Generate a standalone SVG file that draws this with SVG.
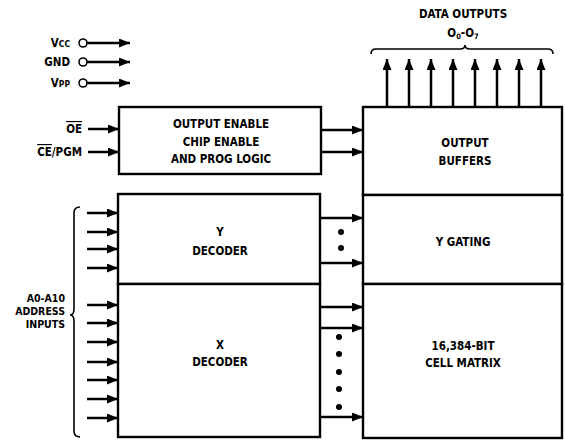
<svg xmlns="http://www.w3.org/2000/svg" width="565" height="440" viewBox="0 0 565 440">
<style>
.box{fill:#fff;stroke:#000;stroke-width:2.4}
.ln{fill:none;stroke:#000;stroke-width:2.5}
.br{fill:none;stroke:#000;stroke-width:1.6}
text{font-family:"Liberation Sans Narrow","DejaVu Sans Condensed","Liberation Sans",sans-serif;font-weight:bold;font-size:11.5px;fill:#000}
.c{text-anchor:middle}
.r{text-anchor:end}
.s{font-size:10.5px}
</style>
<defs>
<marker id="ah" viewBox="0 0 11 9" refX="11" refY="4.5" markerWidth="11" markerHeight="9" markerUnits="userSpaceOnUse" orient="auto">
<path d="M0,0 L11,4.5 L0,9 Z" fill="#000"/>
</marker>
</defs>
<rect width="565" height="440" fill="#fff"/>

<g id="power">
<text class="r" x="70" y="47">V<tspan font-size="8.5">CC</tspan></text>
<text class="r" x="70" y="66">GND</text>
<text class="r" x="70" y="87">V<tspan font-size="8.5">PP</tspan></text>
<circle cx="83" cy="43" r="4" fill="#fff" stroke="#000" stroke-width="1.6"/>
<circle cx="83" cy="62" r="4" fill="#fff" stroke="#000" stroke-width="1.6"/>
<circle cx="83" cy="83" r="4" fill="#fff" stroke="#000" stroke-width="1.6"/>
</g>

<g id="control-labels">
<text class="r" x="82" y="133"><tspan text-decoration="overline">OE</tspan></text>
<text class="r" x="82" y="156"><tspan text-decoration="overline">CE</tspan>/PGM</text>
</g>

<g id="address-labels">
<text class="r s" x="65" y="302">A0-A10</text>
<text class="r s" x="65" y="315">ADDRESS</text>
<text class="r s" x="65" y="328">INPUTS</text>
<path class="br" d="M80,207 Q74,207 74,213 L74,309 Q74,315 70,315 Q74,315 74,321 L74,431 Q74,437 80,437"/>
</g>

<g id="data-outputs-label">
<text class="c" x="463" y="18">DATA OUTPUTS</text>
<text class="c" x="463" y="37">O<tspan font-size="7.5" dy="2">0</tspan><tspan dy="-2">-O</tspan><tspan font-size="7.5" dy="2">7</tspan></text>
<path class="br" d="M371,54 Q371,49 376,49 L460,49 Q465,49 465,45 Q465,49 470,49 L548,49 Q553,49 553,54"/>
</g>

<g id="logic">
<rect class="box" x="119" y="107" width="202" height="67"/>
<text class="c" x="221" y="128">OUTPUT ENABLE</text>
<text class="c" x="221" y="146">CHIP ENABLE</text>
<text class="c" x="221" y="163">AND PROG LOGIC</text>
</g>

<g id="output-buffers">
<rect class="box" x="363" y="107" width="199" height="88"/>
<text class="c" x="465" y="147">OUTPUT</text>
<text class="c" x="465" y="165">BUFFERS</text>
</g>

<g id="y-decoder">
<rect class="box" x="118" y="194" width="202" height="90"/>
<text class="c" x="220" y="236">Y</text>
<text class="c" x="220" y="255">DECODER</text>
</g>

<g id="x-decoder">
<rect class="box" x="118" y="284" width="202" height="153"/>
<text class="c" x="220" y="349">X</text>
<text class="c" x="220" y="366">DECODER</text>
</g>

<g id="y-gating">
<rect class="box" x="363" y="195" width="199" height="89"/>
<text class="c" x="463" y="246">Y GATING</text>
</g>

<g id="cell-matrix">
<rect class="box" x="363" y="284" width="199" height="154"/>
<text class="c" x="463" y="350">16,384-BIT</text>
<text class="c" x="463" y="367">CELL MATRIX</text>
</g>

<g id="connectors">
<path class="ln" d="M87,43 H130" marker-end="url(#ah)"/>
<path class="ln" d="M87,62 H130" marker-end="url(#ah)"/>
<path class="ln" d="M87,83 H130" marker-end="url(#ah)"/>
<path class="ln" d="M88,129 H119" marker-end="url(#ah)"/>
<path class="ln" d="M88,152 H119" marker-end="url(#ah)"/>
<path class="ln" d="M321,130 H363" marker-end="url(#ah)"/>
<path class="ln" d="M321,152 H363" marker-end="url(#ah)"/>
<path class="ln" d="M387,107 V59" marker-end="url(#ah)"/>
<path class="ln" d="M409,107 V59" marker-end="url(#ah)"/>
<path class="ln" d="M431,107 V59" marker-end="url(#ah)"/>
<path class="ln" d="M453,107 V59" marker-end="url(#ah)"/>
<path class="ln" d="M475,107 V59" marker-end="url(#ah)"/>
<path class="ln" d="M497,107 V59" marker-end="url(#ah)"/>
<path class="ln" d="M519,107 V59" marker-end="url(#ah)"/>
<path class="ln" d="M541,107 V59" marker-end="url(#ah)"/>
<path class="ln" d="M87,213 H118" marker-end="url(#ah)"/>
<path class="ln" d="M87,232 H118" marker-end="url(#ah)"/>
<path class="ln" d="M87,249 H118" marker-end="url(#ah)"/>
<path class="ln" d="M87,268 H118" marker-end="url(#ah)"/>
<path class="ln" d="M87,305 H118" marker-end="url(#ah)"/>
<path class="ln" d="M87,323 H118" marker-end="url(#ah)"/>
<path class="ln" d="M87,342 H118" marker-end="url(#ah)"/>
<path class="ln" d="M87,362 H118" marker-end="url(#ah)"/>
<path class="ln" d="M87,380 H118" marker-end="url(#ah)"/>
<path class="ln" d="M87,399 H118" marker-end="url(#ah)"/>
<path class="ln" d="M87,418 H118" marker-end="url(#ah)"/>
<path class="ln" d="M320,218 H363" marker-end="url(#ah)"/>
<path class="ln" d="M320,263 H363" marker-end="url(#ah)"/>
<path class="ln" d="M320,307 H363" marker-end="url(#ah)"/>
<path class="ln" d="M320,328 H363" marker-end="url(#ah)"/>
<path class="ln" d="M320,417 H363" marker-end="url(#ah)"/>
</g>

<g id="dots" fill="#000">
<circle cx="341" cy="232" r="3"/>
<circle cx="341" cy="248" r="3"/>
<circle cx="339" cy="337" r="3"/>
<circle cx="339" cy="354" r="3"/>
<circle cx="339" cy="372" r="3"/>
<circle cx="339" cy="389" r="3"/>
<circle cx="339" cy="407" r="3"/>
</g>
</svg>
